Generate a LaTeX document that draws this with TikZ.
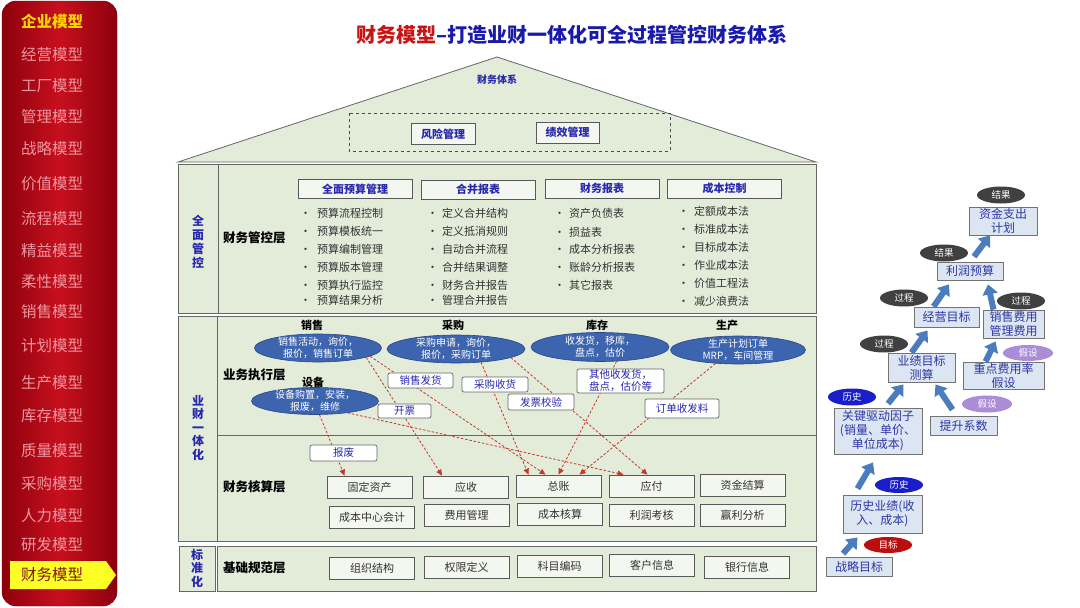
\documentclass[tikz,border=0pt]{standalone}
\usepackage{fontspec}
\setmainfont{Noto Sans CJK SC}
\usetikzlibrary{arrows.meta,shapes.geometric,calc}
\definecolor{panelg}{RGB}{227,235,217}
\definecolor{sidered}{RGB}{200,16,30}
\definecolor{sidedark}{RGB}{140,0,12}
\definecolor{sidetext}{RGB}{238,150,160}
\definecolor{sideyel}{RGB}{255,214,0}
\definecolor{hlyel}{RGB}{255,255,40}
\definecolor{selred}{RGB}{130,20,20}
\definecolor{titlered}{RGB}{200,20,20}
\definecolor{titleblue}{RGB}{25,25,170}
\definecolor{txtblue}{RGB}{40,40,175}
\definecolor{ellblue}{RGB}{60,100,175}
\definecolor{ellborder}{RGB}{40,70,135}
\definecolor{dashred}{RGB}{200,55,45}
\definecolor{flowfill}{RGB}{220,230,242}
\definecolor{flowtext}{RGB}{45,55,165}
\definecolor{arrblue}{RGB}{75,125,190}
\definecolor{tagdark}{RGB}{64,64,64}
\definecolor{tagpurp}{RGB}{170,140,215}
\definecolor{tagblue}{RGB}{25,30,200}
\definecolor{taggoal}{RGB}{185,15,15}
\newcommand\fsz[2]{\fontsize{#1}{#2}\selectfont}
\tikzset{
  sidet/.style={text=sidetext, font=\fsz{15.5}{18}, inner sep=0},
  sidecur/.style={text=sideyel, font=\bfseries\fsz{15.5}{18}, inner sep=0},
  sidesel/.style={text=selred, font=\fsz{15.5}{18}, inner sep=0},
  panel/.style={fill=panelg, draw=black!60, line width=0.8pt},
  vlabel/.style={text=txtblue, font=\bfseries\fsz{12}{13.5}, align=center, inner sep=0},
  layer/.style={anchor=west, font=\bfseries\fsz{12.5}{15}, inner sep=0},
  hdr/.style={draw=black!65, fill=panelg!40!white, line width=0.8pt, text=txtblue, font=\bfseries\fsz{11}{13}, minimum width=114pt, minimum height=19pt, inner sep=0},
  topbox/.style={draw=black!65, fill=panelg!40!white, line width=0.8pt, text=txtblue, font=\bfseries\fsz{11}{13}, minimum width=64pt, minimum height=21pt, inner sep=0},
  bul/.style={anchor=west, font=\fsz{11}{13}, text=black!80, inner sep=0},
  acc/.style={draw=black!65, fill=panelg!40!white, line width=0.8pt, font=\fsz{11}{13}, text=black!80, minimum width=85pt, minimum height=22pt, inner sep=0},
  bizhd/.style={font=\bfseries\fsz{11}{13}, inner sep=0},
  bizell/.style={ellipse, draw=ellborder, fill=ellblue, line width=0.6pt, inner sep=0},
  elltxt/.style={text=white, font=\fsz{10}{12.5}, align=center, inner sep=0},
  tagbox/.style={draw=black!60, fill=white, rounded corners=2pt, line width=0.7pt, text=txtblue, font=\fsz{10.5}{12}, align=center, inner sep=0},
  redflow/.style={draw=dashred, line width=0.8pt, dash pattern=on 2.5pt off 1.8pt, -{Triangle[length=6pt,width=5.5pt]}},
  flowbox/.style={draw=black!55, fill=flowfill, line width=0.8pt, text=flowtext, font=\fsz{12}{14}, align=center, inner sep=0},
  tagell/.style={ellipse, inner sep=0, text=white, font=\fsz{9.5}{11}, minimum width=48pt, minimum height=17pt},
  bigarr/.style={draw=arrblue, line width=6pt, -{Triangle[length=10pt,width=15pt]}},
}
\begin{document}
\begin{tikzpicture}[x=1pt,y=-1pt]
\useasboundingbox (0,0) rectangle (1080,608);
\fill[white] (0,0) rectangle (1080,608);

% ---------- sidebar ----------
\shadedraw[draw=sidedark!80!black, rounded corners=14pt, left color=sidedark, right color=sidedark, middle color=sidered] (2,1) rectangle (117,606);
\fill[hlyel] (10,561) -- (106,561) -- (116,575) -- (106,589) -- (10,589) -- cycle;
\node[sidecur] (m0) at (52,22) {企业模型};
\node[sidet] (m1) at (52,55) {经营模型};
\node[sidet] (m2) at (52,86) {工厂模型};
\node[sidet] (m3) at (52,117) {管理模型};
\node[sidet] (m4) at (52,149) {战略模型};
\node[sidet] (m5) at (52,184) {价值模型};
\node[sidet] (m6) at (52,219) {流程模型};
\node[sidet] (m7) at (52,251) {精益模型};
\node[sidet] (m8) at (52,282) {柔性模型};
\node[sidet] (m9) at (52,312) {销售模型};
\node[sidet] (m10) at (52,346) {计划模型};
\node[sidet] (m11) at (52,383) {生产模型};
\node[sidet] (m12) at (52,416) {库存模型};
\node[sidet] (m13) at (52,451) {质量模型};
\node[sidet] (m14) at (52,484) {采购模型};
\node[sidet] (m15) at (52,516) {人力模型};
\node[sidet] (m16) at (52,545) {研发模型};
\node[sidesel] (m17) at (52,575) {财务模型};

% ---------- title ----------
\node[font=\bfseries\fsz{20}{24}, inner sep=0] (title) at (572,35) {\textcolor{titlered}{财务模型}\textcolor{titleblue}{–打造业财一体化可全过程管控财务体系}};

% ---------- roof ----------
\filldraw[panel] (178,162) -- (497,57) -- (816,162) -- cycle;
\node[text=txtblue, font=\bfseries\fsz{10}{12}, inner sep=0] (roofttl) at (497,80) {财务体系};
\draw[black!70, line width=0.7pt, dashed] (349,113) rectangle (670,151);
\node[topbox] (risk) at (443,134) {风险管理};
\node[topbox, minimum width=63pt] (perf) at (567.5,132.5) {绩效管理};

% ---------- panels ----------
\filldraw[panel] (178,164) rectangle (816,313);
\draw[black!60, line width=0.8pt] (218,164) -- (218,313);
\filldraw[panel] (178,316) rectangle (816,541);
\draw[black!60, line width=0.8pt] (217,316) -- (217,541);
\draw[black!60, line width=0.8pt] (217,435) -- (816,435);
\filldraw[panel] (179,546) rectangle (215,591);
\filldraw[panel] (217,546) rectangle (816,591);

\node[vlabel, font=\bfseries\fsz{12}{14}] (vl1) at (198,242) {全\\面\\管\\控};
\node[vlabel] (vl2) at (198,428) {业\\财\\一\\体\\化};
\node[vlabel] (vl3) at (197,568) {标\\准\\化};

\node[layer] (ly1) at (223,238) {财务管控层};
\node[layer] (ly2) at (223,375) {业务执行层};
\node[layer] (ly3) at (223,487) {财务核算层};
\node[layer] (ly4) at (223,568) {基础规范层};

% ---------- management layer ----------
\node[hdr] (h1) at (355,189) {全面预算管理};
\node[hdr] (h2) at (478,189.5) {合并报表};
\node[hdr] (h3) at (602,188.5) {财务报表};
\node[hdr] (h4) at (724.5,188.5) {成本控制};
\foreach \t/\y [count=\i] in {预算流程控制/213,预算模板统一/231,预算编制管理/249,预算版本管理/267,预算执行监控/285,预算结果分析/300}
  \node[bul] (ba\i) at (300,\y) {\makebox[17pt][l]{·}\t};
\foreach \t/\y [count=\i] in {定义合并结构/213,定义抵消规则/231,自动合并流程/249,合并结果调整/267,财务合并报告/285,管理合并报告/300}
  \node[bul] (bb\i) at (427,\y) {\makebox[15pt][l]{·}\t};
\foreach \t/\y [count=\i] in {资产负债表/213,损益表/232,成本分析报表/249,账龄分析报表/267,其它报表/285}
  \node[bul] (bc\i) at (554,\y) {\makebox[15pt][l]{·}\t};
\foreach \t/\y [count=\i] in {定额成本法/211,标准成本法/229,目标成本法/247,作业成本法/265,价值工程法/283,减少浪费法/301}
  \node[bul] (bd\i) at (678,\y) {\makebox[16pt][l]{·}\t};

% ---------- accounting layer ----------
\node[acc] (gd) at (369.5,487) {固定资产};
\node[acc] (ys) at (466,487) {应收};
\node[acc] (zz) at (558.5,486) {总账};
\node[acc] (yf) at (651.5,486) {应付};
\node[acc] (zjjs) at (742.5,485) {资金结算};
\node[acc] (cbzx) at (372,517) {成本中心会计};
\node[acc] (fygl) at (466.5,515.5) {费用管理};
\node[acc] (cbhs) at (560,514) {成本核算};
\node[acc] (lrkh) at (651.5,515.5) {利润考核};
\node[acc] (ylfx) at (742.5,515.5) {赢利分析};

% ---------- foundation layer ----------
\node[acc] (zzjg) at (372,568) {组织结构};
\node[acc] (qxdy) at (466.5,567) {权限定义};
\node[acc] (kmbm) at (559.5,566) {科目编码};
\node[acc] (khxx) at (652,565.5) {客户信息};
\node[acc] (yhxx) at (747,567.5) {银行信息};

% ---------- business execution layer ----------
\node[bizhd] (hsale) at (312,325) {销售};
\node[bizhd] (hproc) at (453,325) {采购};
\node[bizhd] (hstock) at (597,325) {库存};
\node[bizhd] (hprod) at (727,325) {生产};
\node[bizhd] (hdev) at (313,382) {设备};
\node[bizell, minimum width=127pt, minimum height=28pt] (sale) at (318,348) {};
\node[elltxt] (salet) at (sale) {销售活动，询价，\\报价，销售订单};
\node[bizell, minimum width=138pt, minimum height=28pt] (proc) at (456,349) {};
\node[elltxt] (proct) at (proc) {采购申请，询价，\\报价，采购订单};
\node[bizell, minimum width=138pt, minimum height=29pt] (stock) at (600,347) {};
\node[elltxt] (stockt) at (stock) {收发货，移库，\\盘点，估价};
\node[bizell, minimum width=135pt, minimum height=28pt] (prod) at (738,350) {};
\node[elltxt] (prodt) at (prod) {生产计划订单\\MRP，车间管理};
\node[bizell, minimum width=127pt, minimum height=27pt] (dev) at (315,401) {};
\node[elltxt] (devt) at (dev) {设备购置，安装，\\报废，维修};

\draw[redflow] (dev.-72) -- ([xshift=-25pt]gd.north);
\draw[redflow] (sale.-11) -- ([xshift=-24pt]ys.north);
\draw[redflow] (sale.-9) -- ([xshift=-13pt]zz.north);
\draw[redflow] (proc.-28) -- ([xshift=-30pt]zz.north);
\draw[redflow] (proc.-9) -- ([xshift=-4pt]yf.north);
\draw[redflow] (dev.-20) -- ([xshift=-28pt]yf.north);
\draw[redflow] (stock.-41) -- (zz.north);
\draw[redflow] (prod.-149) -- ([xshift=21pt]zz.north);

\node[tagbox, minimum width=65pt, minimum height=15pt] (tfh) at (420.5,380.5) {销售发货};
\node[tagbox, minimum width=66pt, minimum height=15pt] (tsh) at (495,384.5) {采购收货};
\node[tagbox, minimum width=66pt, minimum height=16pt] (tjy) at (541,402) {发票校验};
\node[tagbox, minimum width=53pt, minimum height=14pt] (tkp) at (404.5,411) {开票};
\node[tagbox, minimum width=87pt, minimum height=24pt] (tqt) at (620.5,381) {其他收发货，\\盘点，估价等};
\node[tagbox, minimum width=74pt, minimum height=19pt] (tdd) at (682,408.5) {订单收发料};
\node[tagbox, minimum width=67pt, minimum height=16pt] (tbf) at (343.5,453) {报废};

% ---------- right flow ----------
\node[flowbox, minimum width=68pt, minimum height=28pt] (zj) at (1003,221) {资金支出\\计划};
\node[flowbox, minimum width=66pt, minimum height=18pt] (lr) at (970,271) {利润预算};
\node[flowbox, minimum width=65pt, minimum height=20pt] (jy) at (946.5,317) {经营目标};
\node[flowbox, minimum width=61pt, minimum height=28pt] (xs) at (1013.5,324) {销售费用\\管理费用};
\node[flowbox, minimum width=67pt, minimum height=29pt] (yj) at (921.5,367.5) {业绩目标\\测算};
\node[flowbox, minimum width=81pt, minimum height=27pt] (zd) at (1003.5,375.5) {重点费用率\\假设};
\node[flowbox, minimum width=88pt, minimum height=46pt] (gj) at (878,431) {关键驱动因子\\(销量、单价、\\单位成本)};
\node[flowbox, minimum width=67pt, minimum height=19pt] (ts) at (963.5,425.5) {提升系数};
\node[flowbox, minimum width=79pt, minimum height=38pt] (ls) at (882.5,514) {历史业绩(收\\入、成本)};
\node[flowbox, minimum width=66pt, minimum height=19pt] (zl) at (859,566.5) {战略目标};

\node[tagell, fill=tagdark] (r1) at (1001,195) {结果};
\node[tagell, fill=tagdark] (r2) at (944,253) {结果};
\node[tagell, fill=tagdark] (p1) at (904,298) {过程};
\node[tagell, fill=tagdark] (p2) at (1021,301) {过程};
\node[tagell, fill=tagdark] (p3) at (884,344) {过程};
\node[tagell, fill=tagpurp, minimum width=50pt, minimum height=16pt] (a1) at (1028,353) {假设};
\node[tagell, fill=tagpurp, minimum width=50pt] (a2) at (987,404) {假设};
\node[tagell, fill=tagblue] (hh1) at (852,397) {历史};
\node[tagell, fill=tagblue, minimum height=16pt] (hh2) at (899,485) {历史};
\node[tagell, fill=taggoal, minimum height=16pt] (g1) at (888,545) {目标};

\draw[bigarr] ([xshift=4pt,yshift=5pt]lr.north) -- ([xshift=-13pt]zj.south);
\draw[bigarr] ([xshift=-13pt]jy.north) -- ([xshift=-21pt,yshift=-4pt]lr.south);
\draw[bigarr] ([xshift=-20pt]xs.north) -- ([xshift=18pt,yshift=-4pt]lr.south);
\draw[bigarr] ([xshift=-10pt]yj.north) -- ([xshift=-19pt,yshift=-3pt]jy.south);
\draw[bigarr] ([xshift=-18pt]zd.north) -- ([xshift=-18pt,yshift=-3pt]xs.south);
\draw[bigarr] ([xshift=10pt,yshift=4pt]gj.north) -- ([xshift=-18pt,yshift=-2pt]yj.south);
\draw[bigarr] ([xshift=-11pt,yshift=6pt]ts.north) -- ([xshift=14pt,yshift=-2pt]yj.south);
\draw[bigarr] ([xshift=-25pt,yshift=6pt]ls.north) -- ([xshift=-5pt,yshift=-8pt]gj.south);
\draw[bigarr] ([xshift=-16pt,yshift=3pt]zl.north) -- ([xshift=-25pt,yshift=-4pt]ls.south);
\end{tikzpicture}
\end{document}
